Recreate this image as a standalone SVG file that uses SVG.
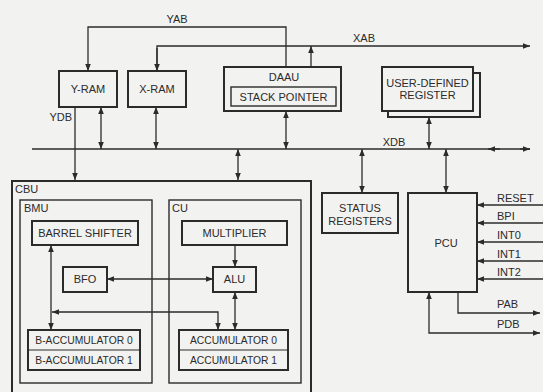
<svg xmlns="http://www.w3.org/2000/svg" width="543" height="392" viewBox="0 0 543 392">
<defs>
<marker id="ah" viewBox="0 0 10 10" refX="10" refY="5" markerWidth="7" markerHeight="7" markerUnits="userSpaceOnUse" orient="auto-start-reverse">
<path d="M0,1 L10,5 L0,9 z" fill="#2b2b2b"/>
</marker>
<style>
text{font-family:"Liberation Sans",Arial,sans-serif;font-size:11px;fill:#2b2b2b}
.c{text-anchor:middle}
.s{font-size:10.3px}
.b{fill:#f2f2f0;stroke:#2b2b2b;stroke-width:2}
.t{fill:none;stroke:#2b2b2b;stroke-width:1.4}
.w{fill:none;stroke:#2b2b2b;stroke-width:1.3}
.d{stroke:#2b2b2b;stroke-width:1}
.a{marker-end:url(#ah)}
.aa{marker-end:url(#ah);marker-start:url(#ah)}
</style>
</defs>
<rect width="543" height="392" fill="#f2f2f0"/>

<g id="connectors" class="w">
<polyline points="286,67 286,27 88,27 88,71" class="w a"/>
<polyline points="157,71 157,46 530,46" class="w a"/>
<line x1="157" y1="48" x2="157" y2="71" class="a"/>
<line x1="311" y1="67" x2="311" y2="46" class="a"/>
<line x1="32" y1="149" x2="530" y2="149"/>
<line x1="500" y1="149" x2="488" y2="149" class="a"/>
<line x1="520" y1="149" x2="530" y2="149" class="a"/>
<line x1="75" y1="107" x2="75" y2="180" class="a"/>
<line x1="101" y1="107" x2="101" y2="149" class="aa"/>
<line x1="156" y1="107" x2="156" y2="149" class="aa"/>
<line x1="286" y1="111" x2="286" y2="149" class="aa"/>
<line x1="429" y1="117" x2="429" y2="149" class="aa"/>
<line x1="238" y1="149" x2="238" y2="180" class="aa"/>
<line x1="362" y1="149" x2="362" y2="193" class="aa"/>
<line x1="446" y1="149" x2="446" y2="193" class="aa"/>
<line x1="543" y1="205" x2="477" y2="205" class="a"/>
<line x1="543" y1="223" x2="477" y2="223" class="a"/>
<line x1="543" y1="242" x2="477" y2="242" class="a"/>
<line x1="543" y1="261" x2="477" y2="261" class="a"/>
<line x1="543" y1="279" x2="477" y2="279" class="a"/>
<polyline points="458,292 458,313 540,313" class="w a"/>
<polyline points="429,292 429,333 540,333" class="w aa"/>
<line x1="51" y1="245" x2="51" y2="330" class="aa"/>
<polyline points="52,312 218,312 218,330" class="w aa"/>
<line x1="235" y1="245" x2="235" y2="267" class="a"/>
<line x1="235" y1="292" x2="235" y2="330" class="aa"/>
<line x1="107" y1="279" x2="213" y2="279" class="aa"/>
</g>

<g id="y-ram"><rect x="59" y="71" width="58" height="36" class="b"/><text x="88" y="93" class="c">Y-RAM</text></g>
<g id="x-ram"><rect x="128" y="71" width="58" height="36" class="b"/><text x="157" y="93" class="c">X-RAM</text></g>
<g id="daau"><rect x="224" y="67" width="117" height="44" class="b"/><text x="284" y="81" class="c">DAAU</text>
<rect x="231" y="87" width="105" height="19" class="t"/><text x="283.5" y="101" class="c">STACK POINTER</text></g>
<g id="user-defined-register"><rect x="388" y="73" width="92" height="44" class="b"/><rect x="382" y="67" width="91" height="44" class="b"/>
<text x="427.5" y="87" class="c">USER-DEFINED</text><text x="427.5" y="99" class="c">REGISTER</text></g>

<g id="bus-labels">
<text x="177" y="23" class="c">YAB</text>
<text x="364" y="42" class="c">XAB</text>
<text x="394" y="146" class="c">XDB</text>
<text x="72" y="121" style="text-anchor:end">YDB</text>
</g>

<g id="cbu"><path d="M12,392 V181 H311 V392" class="b" style="fill:none"/><text x="15" y="193">CBU</text></g>
<g id="bmu"><rect x="20" y="200" width="132" height="183" class="t"/><text x="24" y="212">BMU</text></g>
<g id="cu"><rect x="169" y="200" width="132" height="183" class="t"/><text x="172" y="212">CU</text></g>
<g id="barrel-shifter"><rect x="32" y="221" width="106" height="24" class="b"/><text x="85" y="237" class="c">BARREL SHIFTER</text></g>
<g id="multiplier"><rect x="182" y="221" width="105" height="24" class="b"/><text x="234.5" y="237" class="c">MULTIPLIER</text></g>
<g id="bfo"><rect x="63" y="267" width="44" height="25" class="b"/><text x="85" y="283" class="c">BFO</text></g>
<g id="alu"><rect x="213" y="267" width="43" height="25" class="b"/><text x="234.5" y="283" class="c">ALU</text></g>
<g id="b-accumulator"><rect x="28" y="330" width="112" height="40" class="b"/><line x1="28" y1="350" x2="140" y2="350" class="d"/>
<text x="84" y="344" class="c s">B-ACCUMULATOR 0</text><text x="84" y="364" class="c s">B-ACCUMULATOR 1</text></g>
<g id="accumulator"><rect x="179" y="330" width="109" height="40" class="b"/><line x1="179" y1="350" x2="288" y2="350" class="d"/>
<text x="233.5" y="344" class="c s">ACCUMULATOR 0</text><text x="233.5" y="364" class="c s">ACCUMULATOR 1</text></g>

<g id="status-registers"><rect x="322" y="193" width="76" height="40" class="b"/><text x="360" y="212" class="c">STATUS</text><text x="360" y="225" class="c">REGISTERS</text></g>
<g id="pcu"><rect x="408" y="193" width="69" height="99" class="b"/><text x="446" y="247" class="c">PCU</text></g>

<g id="signal-labels">
<text x="497" y="202">RESET</text>
<text x="497" y="220">BPI</text>
<text x="497" y="239">INT0</text>
<text x="497" y="258">INT1</text>
<text x="497" y="276">INT2</text>
<text x="497" y="308">PAB</text>
<text x="497" y="328">PDB</text>
</g>
</svg>
